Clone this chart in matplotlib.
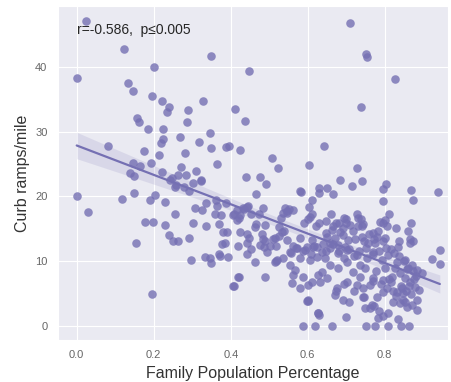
import numpy as np
import seaborn as sns
from matplotlib import pyplot as plt

# family population share vs curb ramp density
fam_pct = [
    # upper sparse part
    0.023, 0.000, 0.122, 0.200, 0.348, 0.132, 0.146, 0.195, 0.221, 0.239,
    0.234, 0.288, 0.327, 0.156, 0.161, 0.184, 0.286, 0.223, 0.345, 0.318,
    0.348, 0.224, 0.218, 0.081, 0.281, 0.146, 0.164, 0.194, 0.363, 0.138,
    0.149, 0.222, 0.263, 0.285, 0.309, 0.323, 0.242, 0.257, 0.388,
    0.709, 0.751, 0.753, 0.447, 0.826, 0.410, 0.436, 0.738, 0.395, 0.423,
    0.642, 0.506, 0.522, 0.603, 0.727, 0.439, 0.475, 0.491, 0.683, 0.740,
    0.714, 0.803, 0.628, 0.649, 0.579, 0.795, 0.868, 0.938,
    # left middle
    0.002, 0.028, 0.117, 0.148, 0.190, 0.202, 0.228, 0.254, 0.306, 0.326,
    0.177, 0.197, 0.228, 0.302, 0.335, 0.369, 0.358, 0.374, 0.153, 0.240,
    0.251, 0.262, 0.292, 0.380, 0.378, 0.296, 0.334, 0.347, 0.348, 0.370,
    0.373, 0.196, 0.337, 0.361, 0.365,
    0.247, 0.255, 0.278, 0.301, 0.322, 0.387, 0.416, 0.431, 0.442, 0.405,
    0.416, 0.423, 0.390, 0.423, 0.442, 0.384, 0.442, 0.392, 0.442, 0.418,
    0.408, 0.213, 0.272, 0.292, 0.175, 0.268,
    # centre
    0.462, 0.488, 0.486, 0.494, 0.514, 0.519, 0.553, 0.571, 0.592, 0.613,
    0.636, 0.657, 0.678, 0.701, 0.553, 0.566, 0.587, 0.561, 0.558, 0.579,
    0.600, 0.610, 0.600, 0.626, 0.631, 0.636, 0.657, 0.678, 0.701, 0.649,
    0.675, 0.670, 0.691, 0.701, 0.626, 0.605, 0.623, 0.644, 0.579, 0.535,
    0.408, 0.421, 0.434, 0.444, 0.452, 0.465, 0.483, 0.473, 0.447, 0.452,
    0.418, 0.481, 0.488, 0.509, 0.517, 0.525, 0.538, 0.545, 0.551, 0.530,
    0.517, 0.590, 0.600, 0.610, 0.621, 0.647, 0.665, 0.681, 0.699, 0.730,
    0.743, 0.556, 0.569, 0.587, 0.608, 0.616, 0.639, 0.647, 0.665, 0.681,
    0.694, 0.706, 0.719, 0.732, 0.751, 0.769, 0.784, 0.803, 0.823, 0.836,
    0.849, 0.860, 0.873, 0.881,
    0.647, 0.673, 0.694, 0.691, 0.717, 0.730, 0.738, 0.758, 0.782, 0.795,
    0.810, 0.829, 0.860, 0.868, 0.873, 0.836, 0.816, 0.795, 0.771, 0.745,
    0.769, 0.790, 0.810, 0.821, 0.829, 0.842, 0.855, 0.868, 0.743, 0.719,
    0.694, 0.673,
    # lower right
    0.743, 0.779, 0.821, 0.839, 0.847, 0.857, 0.870, 0.795, 0.805, 0.831,
    0.844, 0.847, 0.748, 0.766, 0.717, 0.735, 0.748, 0.769, 0.795, 0.818,
    0.839, 0.852, 0.865, 0.878, 0.761, 0.727, 0.727, 0.753, 0.769, 0.792,
    0.808, 0.831, 0.852, 0.870, 0.883, 0.896, 0.735, 0.800,
    0.815, 0.826, 0.852, 0.862, 0.876, 0.888, 0.784, 0.776, 0.835, 0.858,
    0.662, 0.683, 0.649, 0.670, 0.691, 0.704, 0.657, 0.678, 0.696, 0.532,
    0.514, 0.483, 0.545, 0.579, 0.610, 0.475, 0.501, 0.561, 0.597, 0.623,
    0.465, 0.582, 0.629, 0.665, 0.610, 0.603, 0.540, 0.545, 0.561, 0.535,
    0.605, 0.525, 0.462, 0.488, 0.629, 0.660, 0.699,
    0.795, 0.873, 0.727, 0.787, 0.800, 0.805, 0.740, 0.709, 0.722, 0.740,
    0.769, 0.779, 0.756, 0.774, 0.800, 0.865, 0.865, 0.834,
    0.943, 0.943, 0.922,
    # bottom rows
    0.587, 0.618, 0.662, 0.751, 0.774, 0.808, 0.842, 0.862, 0.629, 0.699,
    0.782, 0.795, 0.808, 0.761, 0.771, 0.883, 0.884, 0.600, 0.745, 0.706,
    0.626, 0.597, 0.421, 0.405,
]

ramps_per_mile = [
    47.1, 38.3, 42.7, 40.0, 41.7, 37.5, 36.3, 35.5, 34.7, 33.8,
    33.0, 33.3, 34.7, 32.1, 31.5, 30.4, 31.5, 30.4, 29.8, 28.4,
    27.5, 28.8, 28.3, 27.8, 26.7, 25.2, 24.7, 25.2, 25.0, 23.6,
    23.2, 23.8, 23.3, 23.3, 23.9, 22.5, 22.5, 21.8, 27.6,
    46.8, 42.0, 41.6, 39.3, 38.1, 33.5, 31.7, 33.8, 27.8, 27.2,
    27.8, 25.9, 24.4, 24.8, 24.4, 23.0, 23.0, 21.9, 22.5, 22.4,
    21.6, 21.9, 21.3, 21.3, 20.8, 21.1, 21.0, 20.7,
    20.1, 17.6, 19.6, 20.5, 19.4, 20.2, 19.1, 17.3, 18.2, 17.9,
    16.0, 16.0, 15.6, 15.9, 15.4, 15.7, 17.3, 17.1, 12.8, 14.0,
    13.1, 13.1, 13.6, 14.5, 12.7, 10.2, 10.6, 10.5, 9.7, 11.1,
    10.8, 4.9, 19.0, 19.4, 18.5,
    22.8, 21.5, 21.5, 22.1, 22.4, 19.0, 17.9, 18.2, 18.4, 17.1,
    16.4, 17.1, 14.5, 14.5, 14.2, 12.8, 12.8, 10.6, 11.1, 7.6,
    6.2, 26.4, 24.6, 20.9, 27.0, 29.2,
    9.9, 7.6, 12.2, 11.4, 9.9, 10.2, 11.4, 12.0, 11.7, 12.2,
    11.4, 12.0, 11.3, 11.7, 9.4, 8.6, 7.6, 7.9, 6.6, 5.9,
    6.3, 6.8, 3.9, 1.9, 6.8, 8.3, 9.4, 9.0, 9.9, 7.4,
    5.9, 4.8, 4.0, 6.8, 7.9, 10.2, 10.6, 10.5, 10.5, 10.5,
    17.3, 16.7, 18.1, 18.5, 17.3, 15.7, 18.2, 17.3, 13.6, 11.9,
    12.3, 14.2, 13.1, 13.4, 12.3, 13.9, 14.7, 17.7, 18.1, 16.7,
    10.0, 15.9, 16.5, 17.3, 15.4, 14.4, 15.4, 15.9, 16.5, 16.7,
    15.7, 11.3, 12.0, 11.6, 11.1, 12.3, 12.7, 11.6, 12.7, 11.6,
    10.5, 11.9, 10.8, 11.6, 12.0, 11.1, 11.6, 12.0, 11.3, 10.8,
    10.0, 9.0, 8.5, 7.7,
    16.2, 15.9, 16.7, 15.1, 14.7, 15.4, 16.5, 14.2, 14.7, 15.9,
    17.3, 15.1, 14.7, 15.9, 13.1, 13.1, 11.9, 13.1, 13.4, 13.1,
    6.9, 6.5, 7.3, 5.4, 4.6, 6.2, 5.4, 4.9, 5.9, 5.4,
    6.5, 5.4,
    4.5, 4.5, 3.7, 3.5, 4.0, 2.9, 3.2, 5.2, 5.9, 5.2,
    5.9, 5.1, 2.8, 3.2, 8.3, 7.6, 9.0, 7.4, 7.1, 7.6,
    8.2, 7.4, 6.8, 6.0, 6.3, 6.3, 11.0, 10.5, 11.4, 10.2,
    11.0, 9.9, 10.2, 9.4, 8.6, 8.2, 9.4, 9.0,
    6.8, 8.9, 3.6, 6.1, 7.2, 5.5, 2.3, 8.4, 1.1, 8.8,
    14.8, 14.5, 13.7, 13.6, 14.0, 13.3, 12.8, 12.5, 12.2, 14.5,
    13.6, 13.4, 13.3, 13.6, 13.3, 12.5, 12.3, 12.3, 12.2, 12.2,
    20.4, 20.7, 20.5, 20.4, 19.4, 18.4, 18.2, 17.4, 17.9, 17.4,
    16.8, 15.3, 15.3, 15.6, 15.9, 17.3, 15.9,
    19.3, 19.4, 17.3, 16.0, 16.4, 15.4, 15.4, 15.6, 13.4, 13.7,
    14.4, 13.7, 12.8, 12.8, 13.6, 13.4, 12.8, 12.2,
    11.7, 9.6, 10.3,
    0.0, 0.0, 0.0, 0.0, 0.0, 0.0, 0.0, 0.0, 1.7, 1.4,
    1.2, 1.5, 1.9, 2.8, 3.1, 2.5, 4.0, 4.0, 4.5, 3.7,
    1.9, 3.9, 7.6, 6.2,
]

stat_text = "r=-0.586,  p\u22640.005"
point_color = "#7570b3"

x = np.array(fam_pct)
y = np.array(ramps_per_mile)

sns.set_style("darkgrid")
plt.rcParams['font.family'] = ['Liberation Sans', 'DejaVu Sans']

fig = plt.figure(figsize=(4.52, 3.82), dpi=100)
ax = fig.add_axes([0.128, 0.110, 0.863, 0.874])

ax.scatter(x, y, s=38, color=point_color, alpha=0.8, linewidths=0)

# least squares fit with a 95% confidence band
slope, intercept = np.polyfit(x, y, 1)
xs = np.linspace(x.min(), x.max(), 100)
fit = intercept + slope * xs
n = len(x)
resid = y - (intercept + slope * x)
s_err = np.sqrt(np.sum(resid ** 2) / (n - 2))
se = s_err * np.sqrt(1 / n + (xs - x.mean()) ** 2 / np.sum((x - x.mean()) ** 2))
ax.fill_between(xs, fit - 1.97 * se, fit + 1.97 * se, color=point_color, alpha=0.15, linewidth=0)
ax.plot(xs, fit, color=point_color, lw=1.6)

ax.text(0.049, 0.928, stat_text, transform=ax.transAxes, fontsize=10,
        color='0.15', va='center', ha='left')

ax.set_xlim(-0.049, 0.964)
ax.set_ylim(-2.2, 49.4)
ax.set_xticks([0.0, 0.2, 0.4, 0.6, 0.8])
ax.set_yticks([0, 10, 20, 30, 40])
ax.tick_params(labelsize=8, labelcolor='0.4', pad=4)
ax.set_xlabel('Family Population Percentage', fontsize=11.5, color='0.2')
ax.set_ylabel('Curb ramps/mile', fontsize=11.5, color='0.2')

fig.savefig('out.png', dpi=100)
